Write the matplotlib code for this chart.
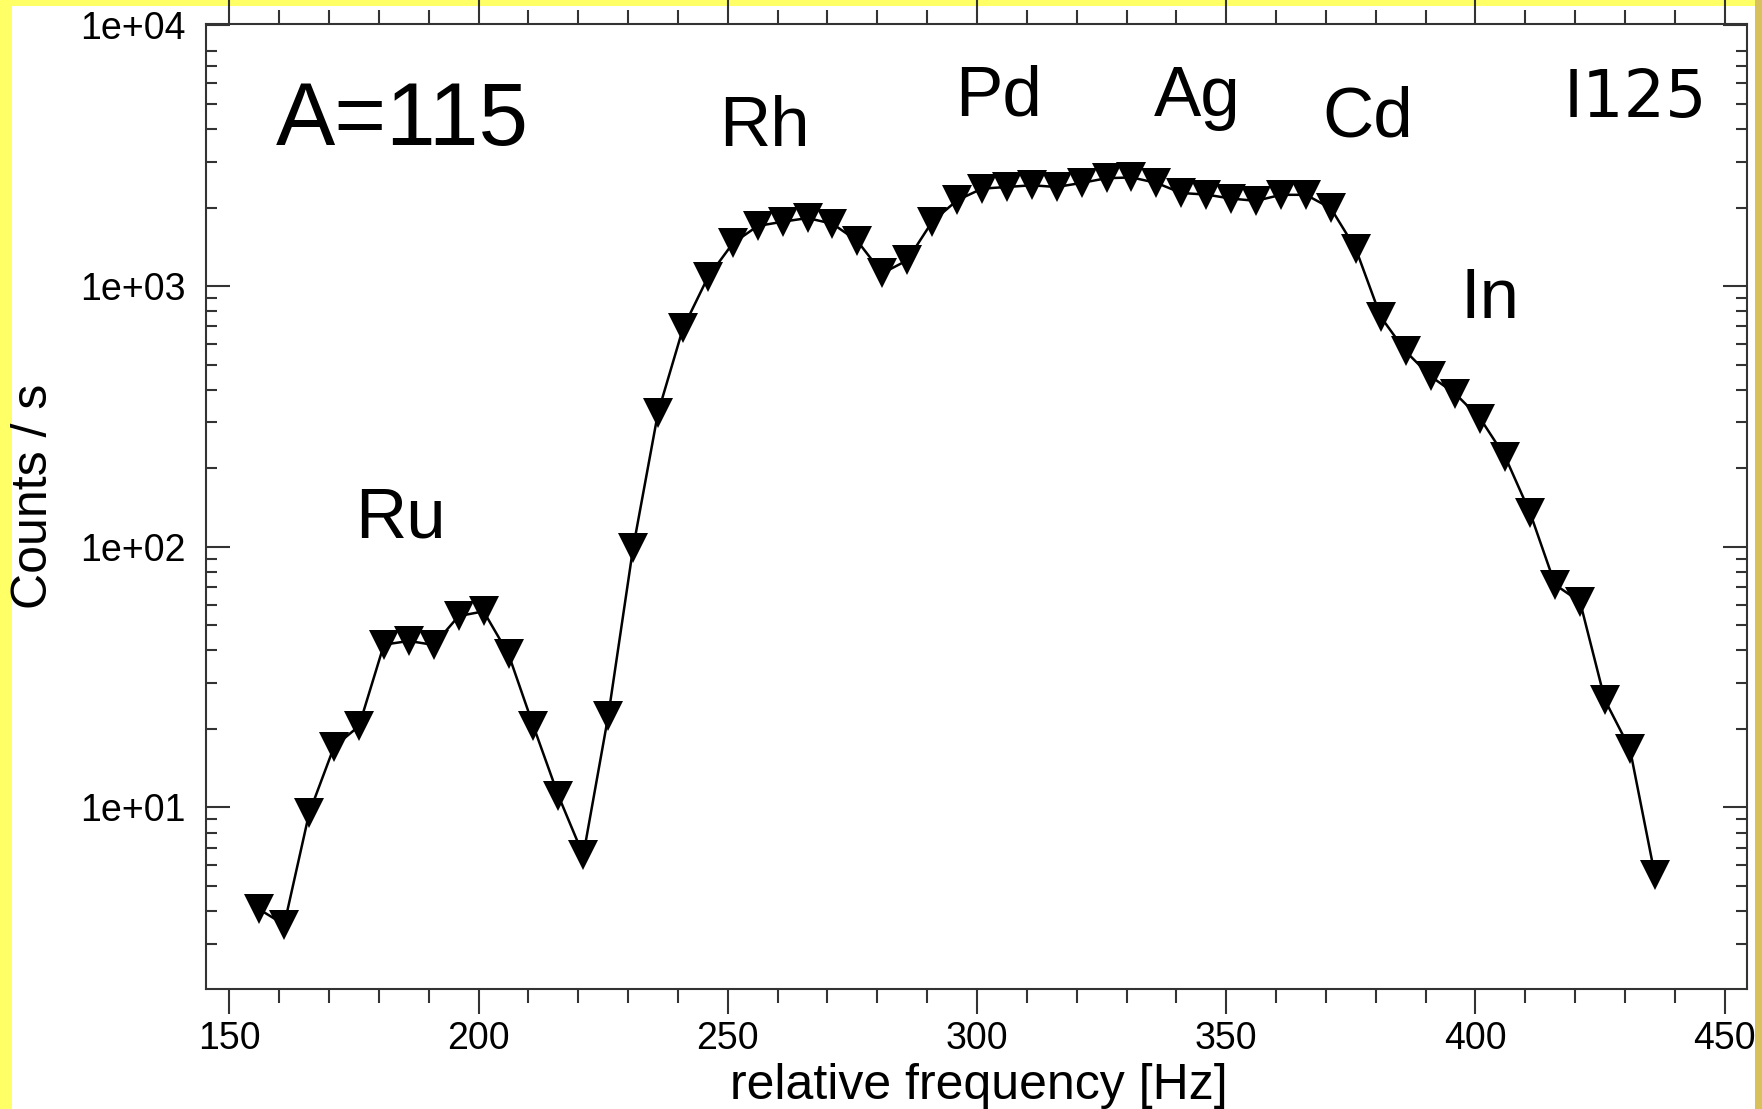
import matplotlib.pyplot as plt
from matplotlib.patches import Rectangle
from matplotlib.ticker import FixedLocator, MultipleLocator, NullFormatter

plt.rcParams['font.family'] = ['Liberation Sans', 'DejaVu Sans']

# relative frequency (Hz) and counts/s
freq = [156, 161, 166, 171, 176, 181, 186, 191, 196, 201,
        206, 211, 216, 221, 226, 231, 236, 241, 246, 251,
        256, 261, 266, 271, 276, 281, 286, 291, 296, 301,
        306, 311, 316, 321, 326, 331, 336, 341, 346, 351,
        356, 361, 366, 371, 376, 381, 386, 391, 396, 401,
        406, 411, 416, 421, 426, 431, 436]
counts = [4.06, 3.55, 9.5, 17.1, 20.5, 42.1, 43.5, 42.0, 54.2, 56.5,
          38.7, 20.5, 11.1, 6.55, 22.4, 99, 327, 688, 1081, 1459,
          1701, 1766, 1824, 1735, 1489, 1120, 1256, 1766, 2133, 2366,
          2400, 2437, 2400, 2489, 2594, 2612, 2489, 2276, 2245, 2166,
          2124, 2240, 2240, 1989, 1390, 763, 562, 451, 386, 310,
          221, 134.6, 71.5, 61.5, 25.8, 16.8, 5.52]

elements = ['Ru', 'Rh', 'Pd', 'Ag', 'Cd', 'In']
xticks = [150, 200, 250, 300, 350, 400, 450]
yticks = [10, 100, 1000, 10000]
ytick_labels = ['1e+01', '1e+02', '1e+03', '1e+04']

W, H = 1762, 1109
fig = plt.figure(figsize=(W / 100, H / 100), dpi=100, facecolor='#FFFF66')
# white slide area with a thin gold strip on the right
fig.patches.append(Rectangle((12 / W, 0), (1755 - 12) / W, (H - 6) / H,
                             transform=fig.transFigure, facecolor='white',
                             edgecolor='none', zorder=-2))
fig.patches.append(Rectangle((1755 / W, 0), 7 / W, 1, transform=fig.transFigure,
                             facecolor='#D8C05A', edgecolor='none', zorder=-2))

ax = fig.add_axes([205.5 / W, (H - 989) / H, 1541 / W, 965 / H])
ax.set_facecolor('white')

ax.plot(freq, counts, color='black', lw=1.8, marker='v', ms=21.5,
        mfc='black', mec='black', mew=0)

ax.set_yscale('log')
ax.set_xlim(145.2, 454.4)
ax.set_ylim(2.01, 1.013e4)

ax.set_xticks(xticks)
ax.xaxis.set_minor_locator(MultipleLocator(10))
ax.set_yticks(yticks)
ax.set_yticklabels(ytick_labels)
minor_y = [m * d for d in (1, 10, 100, 1000) for m in range(2, 10) if m * d != 9000]
ax.yaxis.set_minor_locator(FixedLocator(minor_y))
ax.yaxis.set_minor_formatter(NullFormatter())

for s in ax.spines.values():
    s.set_linewidth(1.5)
    s.set_color('#333333')

ax.tick_params(axis='y', which='both', direction='in', left=True, right=True,
               width=1.5, color='#333333', labelsize=27, pad=14)
ax.tick_params(axis='y', which='major', length=17)
ax.tick_params(axis='y', which='minor', length=8)
ax.tick_params(axis='x', which='both', direction='out', top=True, bottom=True,
               width=1.5, color='#333333')
ax.tick_params(axis='x', which='major', length=18, labelsize=27, pad=5)
ax.tick_params(axis='x', which='minor', length=10)

ax.set_xlabel('relative frequency [Hz]', fontsize=36, va='baseline')
ax.xaxis.set_label_coords(0.502, -0.114)
ax.set_ylabel('Counts / s', fontsize=36, va='center')
ax.yaxis.set_label_coords(-0.111, 0.51)

label_pos = {'Ru': (0.097, 0.468), 'Rh': (0.333, 0.8735), 'Pd': (0.4866, 0.905),
             'Ag': (0.6155, 0.905), 'Cd': (0.7245, 0.883), 'In': (0.8142, 0.6953)}
for el in elements:
    x, y = label_pos[el]
    ax.text(x, y, el, transform=ax.transAxes, fontsize=51, ha='left', va='baseline')

ax.text(0.0455, 0.8746, 'A=115', transform=ax.transAxes, fontsize=64,
        ha='left', va='baseline')
ax.text(0.8815, 0.904, 'I125', transform=ax.transAxes, fontsize=47,
        ha='left', va='baseline', family='DejaVu Sans')

fig.savefig('out.png', dpi=100, facecolor=fig.get_facecolor())
